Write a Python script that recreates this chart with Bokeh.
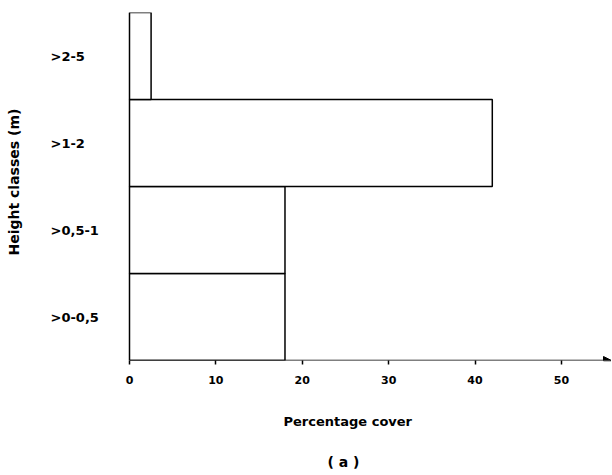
from bokeh.plotting import figure
from bokeh.models import Range1d, FactorRange, FixedTicker, Arrow, NormalHead, Title
from bokeh.core.properties import value
from bokeh.embed import file_html
from bokeh.resources import INLINE

categories = [">0-0,5", ">0,5-1", ">1-2", ">2-5"]
cover = [18, 18, 42, 2.5]
x_ticks = [0, 10, 20, 30, 40, 50]
x_title = "Percentage cover"
y_title = "Height classes (m)"
panel_tag = "( a )"

FONT = "DejaVu Sans"
X_START, X_END = -12.04, 55.8

p = figure(width=611, height=472, output_backend="svg", toolbar_location=None,
           x_range=Range1d(X_START, X_END), y_range=FactorRange(*categories),
           min_border_top=12, min_border_left=0, min_border_right=0, min_border_bottom=0)
p.outline_line_color = None
p.grid.visible = False
p.background_fill_color = "white"
p.yaxis.visible = False

p.hbar(y=categories, left=0, right=cover, height=1.0,
       fill_color="white", line_color="black", line_width=1.5)

p.text(x=[0] * len(categories), y=categories, text=categories, x_offset=-79,
       text_align="left", text_baseline="middle", text_font=value(FONT),
       text_font_style="bold", text_font_size="13px", text_color="black")

# x axis
xa = p.xaxis[0]
xa.ticker = FixedTicker(ticks=x_ticks)
xa.axis_line_color = None
xa.major_tick_out = 4
xa.major_tick_in = 0
xa.major_tick_line_width = 1.5
xa.minor_tick_line_color = None
xa.major_label_standoff = 11
xa.major_label_text_font = FONT
xa.major_label_text_font_style = "bold"
xa.major_label_text_font_size = "11px"
xa.major_label_text_color = "black"

p.add_layout(Arrow(x_start=0, y_start=0, x_end=X_END, y_end=0, line_width=1.5,
                   end=NormalHead(size=8, fill_color="black", line_color="black")))

p.add_layout(Title(text=y_title, align="left", offset=105, text_font=FONT, text_color="black",
                   text_font_style="bold", text_font_size="14px", standoff=7), "left")
p.add_layout(Title(text=x_title, align="left", offset=258, text_font=FONT, text_color="black",
                   text_font_style="bold", text_font_size="13px", standoff=50), "below")
p.add_layout(Title(text=panel_tag, align="left", offset=302, text_font=FONT, text_color="black",
                   text_font_style="bold", text_font_size="14px", standoff=1,
                   vertical_align="top"), "below")

open("out.html", "w").write(file_html(p, INLINE))
